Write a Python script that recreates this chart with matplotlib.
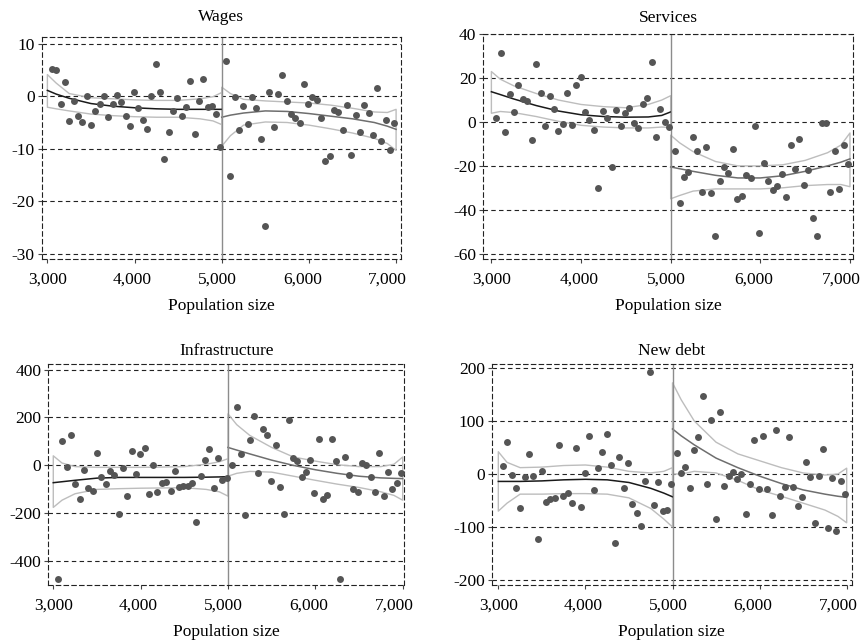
import numpy as np
import matplotlib
matplotlib.use("Agg")
import matplotlib.pyplot as plt
import matplotlib.transforms as mtransforms
from matplotlib.ticker import FuncFormatter

plt.rcParams['font.family'] = ['Liberation Serif', 'DejaVu Serif']
plt.rcParams['axes.unicode_minus'] = False

# bin centres (population size)
x_left = [3055, 3104, 3154, 3203, 3253, 3302, 3352, 3401, 3451, 3500,
          3550, 3599, 3649, 3698, 3748, 3797, 3847, 3896, 3946, 3995,
          4045, 4094, 4144, 4193, 4243, 4292, 4342, 4391, 4441, 4490,
          4540, 4589, 4639, 4688, 4738, 4787, 4837, 4886, 4936, 4985]
x_right = [5050, 5100, 5149, 5198, 5248, 5298, 5347, 5396, 5446, 5496,
           5545, 5594, 5644, 5694, 5743, 5792, 5842, 5892, 5941, 5990,
           6040, 6090, 6139, 6188, 6238, 6288, 6337, 6386, 6436, 6486,
           6535, 6584, 6634, 6684, 6733, 6782, 6832, 6882, 6931, 6980]

# knots for the fitted curves and confidence bands
fit_x_left = [3000, 3100, 3250, 3500, 3750, 4000, 4250, 4500, 4750, 4900, 5000]
fit_x_right = [5000, 5100, 5250, 5500, 5750, 6000, 6250, 6500, 6750, 6900, 7000]

# Wages
wages_left = [5.1, 4.9, -1.4, 2.6, -4.7, -0.9, -3.7, -4.9, 0.1, -5.4,
              -2.8, -1.5, 0.1, -4.0, -1.5, 0.3, -1.2, -3.8, -5.6, 0.7,
              -2.3, -4.6, -6.3, 0.0, 6.2, 0.8, -12.0, -6.9, -2.8, -0.3,
              -3.7, -2.0, 2.8, -7.1, -1.0, 3.3, -2.0, -1.9, -3.4, -9.6]
wages_right = [6.6, -15.2, -0.1, -6.5, -1.9, -5.3, -0.1, -2.2, -8.2, -24.6,
               0.8, -5.9, 0.5, 4.1, -0.9, -3.4, -4.2, -5.1, 2.4, -1.5,
               -0.2, -0.8, -4.1, -12.3, -11.4, -2.7, -3.1, -6.5, -1.6, -11.2,
               -3.5, -6.9, -1.7, -3.2, -7.3, 1.5, -8.5, -4.6, -10.2, -5.1]
wages_fit_l = [1.1, 0.4, -0.4, -1.4, -1.9, -2.2, -2.4, -2.5, -2.5, -2.5, -2.5]
wages_hi_l = [4.1, 2.5, 0.5, -0.3, -0.5, -0.7, -0.8, -0.8, -0.5, -0.1, 0.7]
wages_lo_l = [-2.1, -2.4, -2.8, -3.4, -3.7, -3.9, -4.0, -4.0, -4.3, -4.7, -5.4]
wages_fit_r = [-4.0, -3.6, -3.2, -2.8, -2.9, -3.3, -3.8, -4.3, -5.0, -5.7, -6.3]
wages_hi_r = [1.7, 0.5, -0.6, -0.9, -1.1, -1.3, -1.7, -2.3, -3.0, -3.1, -2.5]
wages_lo_r = [-9.5, -7.5, -5.5, -4.9, -5.0, -5.5, -6.2, -7.0, -8.0, -9.0, -10.3]

# Services
serv_left = [1.7, 31.4, -4.7, 12.9, 4.7, 17.0, 10.6, 9.7, -8.0, 26.5,
             13.3, -1.7, 11.8, 5.8, -4.1, -0.9, 13.3, -1.4, 17.0, 20.3,
             4.7, 1.1, -3.8, -30.0, 5.2, 1.8, -20.3, 5.3, -1.8, 4.1,
             6.4, -0.6, -2.7, 8.2, 10.8, 27.3, -6.8, 6.1, 0.2, -2.4]
serv_right = [-13.2, -36.8, -25.0, -23.0, -7.0, -13.3, -31.7, -11.2, -32.3, -52.0,
              -27.1, -20.3, -23.3, -12.3, -35.3, -33.8, -24.1, -25.6, -1.7, -50.8,
              -18.5, -27.0, -31.1, -29.2, -23.6, -34.2, -10.6, -21.5, -7.6, -28.9,
              -22.0, -43.6, -52.0, -0.5, -0.3, -31.7, -13.2, -30.5, -10.5, -19.1]
serv_fit_l = [13.8, 12.5, 10.5, 7.5, 5.0, 3.3, 2.5, 2.2, 2.3, 3.0, 4.6]
serv_hi_l = [23, 19.5, 16.5, 13, 10, 8, 7, 6.5, 8, 10, 12]
serv_lo_l = [4, 4.8, 4.3, 2.5, 0.3, -1.5, -2.3, -2.7, -2.7, -2.3, -2.5]
serv_fit_r = [-20.5, -21.3, -22.5, -24.3, -25.5, -25.5, -24.5, -22.5, -20, -18.3, -16.8]
serv_hi_r = [-6, -9.5, -13.5, -18, -20, -20, -19.5, -17.5, -14, -10.5, -5]
serv_lo_r = [-35, -33.5, -31.5, -30.5, -30.5, -30.5, -30, -29, -28.5, -28.5, -29.5]

# Infrastructure
infra_left = [-472, 100, -6, 128, -76, -142, -19, -93, -107, 53,
              -49, -78, -22, -39, -203, -10, -126, 60, -35, 47,
              74, -121, 3, -110, -72, -69, -107, -24, -88, -85,
              -85, -75, -238, -46, 22, 69, -93, 32, -61, -51]
infra_right = [1, 244, 49, -208, 106, 206, -31, 150, 126, -67,
               86, -92, -203, 188, 33, 18, -49, -28, 22, -113,
               112, -138, -122, 112, 17, -474, 35, -39, -100, -111,
               12, 3, -49, -110, 50, -126, -26, -100, -72, -31]
infra_fit_l = [-72, -68, -62, -53, -50, -50, -50, -50, -49, -48, -47]
infra_hi_l = [40, 10, -5, -8, -8, -8, -7, -5, 5, 15, 28]
infra_lo_l = [-175, -145, -118, -100, -97, -95, -94, -93, -100, -110, -128]
infra_fit_r = [75, 64, 48, 22, 0, -18, -33, -45, -52, -54, -55]
infra_hi_r = [215, 170, 125, 75, 35, 18, 3, -5, -5, 5, 35]
infra_lo_r = [-45, -33, -25, -28, -45, -62, -78, -92, -110, -125, -145]

# New debt
debt_left = [16, 61, -2, -26, -65, -5, 37, -3, -123, 5,
             -53, -48, -46, 55, -41, -36, -55, 49, -62, 1,
             72, -31, 12, 41, 76, 17, -131, 32, -27, 20,
             -56, -74, -98, -14, 193, -58, -16, -70, -68, -18]
debt_right = [40, 1, 14, -27, 45, 70, 147, -19, 101, -84,
              117, -22, -4, 4, -10, 0, -76, -19, 64, -29,
              71, -29, -77, 83, -42, -24, 69, -25, -60, -44,
              23, -6, -92, -4, 48, -101, -8, -108, -14, -37]
debt_fit_l = [-14, -14, -14, -13, -11, -10, -11, -16, -27, -36, -43]
debt_hi_l = [42, 22, 12, 13, 16, 17, 13, 5, 2, 5, 12]
debt_lo_l = [-70, -55, -38, -38, -37, -37, -38, -45, -65, -85, -100]
debt_fit_r = [85, 72, 55, 30, 12, -4, -18, -30, -38, -42, -44]
debt_hi_r = [172, 140, 100, 60, 38, 25, 12, 2, -2, 0, 11]
debt_lo_r = [0, 0, 5, 2, -12, -30, -42, -55, -68, -80, -92]

x_ticks = [3000, 4000, 5000, 6000, 7000]

panels = [
    ("Wages", wages_left, wages_right,
     (wages_fit_l, wages_hi_l, wages_lo_l), (wages_fit_r, wages_hi_r, wages_lo_r),
     [-30, -20, -10, 0, 10], (-31.0, 11.3), (2935, 7057),
     [0.0483, 0.5967, 0.4159, 0.3462], 11),
    ("Services", serv_left, serv_right,
     (serv_fit_l, serv_hi_l, serv_lo_l), (serv_fit_r, serv_hi_r, serv_lo_r),
     [-60, -40, -20, 0, 20, 40], (-62.6, 40), (2910, 7037),
     [0.5594, 0.5967, 0.4282, 0.35], 9),
    ("Infrastructure", infra_left, infra_right,
     (infra_fit_l, infra_hi_l, infra_lo_l), (infra_fit_r, infra_hi_r, infra_lo_r),
     [-400, -200, 0, 200, 400], (-500, 424), (2943, 7018),
     [0.0559, 0.0897, 0.412, 0.3446], 6),
    ("New debt", debt_left, debt_right,
     (debt_fit_l, debt_hi_l, debt_lo_l), (debt_fit_r, debt_hi_r, debt_lo_r),
     [-200, -100, 0, 100, 200], (-210, 208), (2924, 7057),
     [0.5691, 0.0897, 0.4166, 0.3446], 6),
]

dash = (0, (4, 3))
fig = plt.figure(figsize=(8.64, 6.43), dpi=100)

for title, yl, yr, fl, fr, yticks, ylim, xlim, pos, tpad in panels:
    ax = fig.add_axes(pos)
    for y in yticks:
        ax.axhline(y, color='#222222', lw=0.8, ls=dash, zorder=1)
    ax.scatter(x_left, yl, s=25, color='#555555', zorder=3, linewidths=0)
    ax.scatter(x_right, yr, s=25, color='#555555', zorder=3, linewidths=0)
    # confidence bands (outline only)
    ax.fill_between(fit_x_left, fl[2], fl[1], facecolor='none',
                    edgecolor='#bdbdbd', lw=1.0, zorder=2)
    ax.fill_between(fit_x_right, fr[2], fr[1], facecolor='none',
                    edgecolor='#bdbdbd', lw=1.0, zorder=2)
    ax.plot(fit_x_left, fl[0], color='#1a1a1a', lw=1.1, zorder=2)
    ax.plot(fit_x_right, fr[0], color='#6e6e6e', lw=1.1, zorder=2)
    ax.axvline(5000, color='#8c8c8c', lw=1.0, zorder=2)

    ax.set_xlim(*xlim)
    ax.set_ylim(*ylim)
    ax.set_xticks(x_ticks)
    ax.set_yticks(yticks)
    ax.xaxis.set_major_formatter(FuncFormatter(lambda v, p: f"{int(v):,}"))
    ax.tick_params(direction='out', length=3, width=0.8, color='#444444',
                   labelsize=12.5)
    ax.tick_params(axis='x', pad=6)
    ax.tick_params(axis='y', pad=2)
    for sp in ax.spines.values():
        sp.set_linestyle(dash)
        sp.set_linewidth(0.8)
        sp.set_color('#222222')
    ax.set_title(title, fontsize=12.5, pad=tpad)
    ax.set_xlabel("Population size", fontsize=12.5, labelpad=7)

    # tick labels sit a little left of their ticks, more so to the right
    for i, tick in enumerate(ax.xaxis.get_major_ticks()):
        shift = mtransforms.ScaledTranslation(-0.022 * i, 0, fig.dpi_scale_trans)
        tick.label1.set_transform(tick.label1.get_transform() + shift)

fig.savefig("out.png", dpi=100)
